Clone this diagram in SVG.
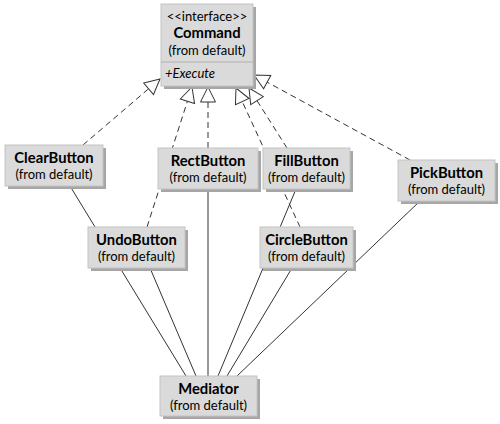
<svg xmlns="http://www.w3.org/2000/svg" width="500" height="424" viewBox="0 0 500 424">
<style>
.shadow{fill:#a6a6a6}
.box{fill:#dadada;stroke:#c4c4c4;stroke-width:1}
.t{font-family:Lato,"Open Sans","DejaVu Sans",sans-serif;font-size:13px;fill:#000;text-anchor:middle}
.b{font-weight:bold;font-size:14.8px}
.i{font-style:italic;text-anchor:start}
.assoc{stroke:#333;stroke-width:1;fill:none}
.real{stroke:#333;stroke-width:1;fill:none;stroke-dasharray:6,4;marker-end:url(#tri)}
</style>
<defs>
<marker id="tri" markerUnits="userSpaceOnUse" markerWidth="17" markerHeight="17" viewBox="0 0 17 17" refX="16" refY="8.5" orient="auto">
<path d="M1,1 L16,8.5 L1,16 Z" fill="#fff" stroke="#333" stroke-width="1"/>
</marker>
</defs>
<rect width="500" height="424" fill="#fff"/>
<g id="connectors">
<line class="assoc" x1="70" y1="186" x2="186" y2="376"/>
<line class="assoc" x1="150" y1="268" x2="196" y2="376"/>
<line class="assoc" x1="208" y1="189" x2="208" y2="376"/>
<line class="assoc" x1="296" y1="189" x2="218" y2="376"/>
<line class="assoc" x1="292" y1="268" x2="227" y2="376"/>
<line class="assoc" x1="420" y1="201" x2="237" y2="376"/>
<line class="real" x1="83" y1="145" x2="160" y2="79"/>
<line class="real" x1="147" y1="227" x2="192" y2="87"/>
<line class="real" x1="208" y1="148" x2="208" y2="87"/>
<line class="real" x1="300" y1="227" x2="236" y2="88"/>
<line class="real" x1="287" y1="148" x2="249" y2="88"/>
<line class="real" x1="410" y1="160" x2="254" y2="75"/>
</g>
<g id="Command">
<rect class="shadow" x="164" y="7" width="92" height="82"/>
<rect class="box" x="161" y="4" width="92" height="82"/>
<line x1="161" y1="62" x2="253" y2="62" stroke="#b0b0b0"/>
<text class="t" x="207" y="21">&lt;&lt;interface&gt;&gt;</text>
<text class="t b" x="207" y="38">Command</text>
<text class="t" x="207" y="55">(from default)</text>
<text class="t i" x="165" y="78">+Execute</text>
</g>
<g id="ClearButton">
<rect class="shadow" x="8" y="148" width="98" height="41"/>
<rect class="box" x="5" y="145" width="98" height="41"/>
<text class="t b" x="54" y="163">ClearButton</text>
<text class="t" x="54" y="179">(from default)</text>
</g>
<g id="RectButton">
<rect class="shadow" x="161" y="151" width="100" height="41"/>
<rect class="box" x="158" y="148" width="100" height="41"/>
<text class="t b" x="208" y="166">RectButton</text>
<text class="t" x="208" y="182">(from default)</text>
</g>
<g id="FillButton">
<rect class="shadow" x="266" y="151" width="87" height="41"/>
<rect class="box" x="263" y="148" width="87" height="41"/>
<text class="t b" x="306.5" y="166">FillButton</text>
<text class="t" x="306.5" y="182">(from default)</text>
</g>
<g id="PickButton">
<rect class="shadow" x="401" y="163" width="97" height="41"/>
<rect class="box" x="398" y="160" width="97" height="41"/>
<text class="t b" x="446.5" y="178">PickButton</text>
<text class="t" x="446.5" y="194">(from default)</text>
</g>
<g id="UndoButton">
<rect class="shadow" x="91" y="230" width="97" height="41"/>
<rect class="box" x="88" y="227" width="97" height="41"/>
<text class="t b" x="136.5" y="245">UndoButton</text>
<text class="t" x="136.5" y="261">(from default)</text>
</g>
<g id="CircleButton">
<rect class="shadow" x="263" y="230" width="93" height="41"/>
<rect class="box" x="260" y="227" width="93" height="41"/>
<text class="t b" x="306.5" y="245">CircleButton</text>
<text class="t" x="306.5" y="261">(from default)</text>
</g>
<g id="Mediator">
<rect class="shadow" x="163" y="379" width="97" height="40"/>
<rect class="box" x="160" y="376" width="97" height="40"/>
<text class="t b" x="208.5" y="394">Mediator</text>
<text class="t" x="208.5" y="410">(from default)</text>
</g>
</svg>
